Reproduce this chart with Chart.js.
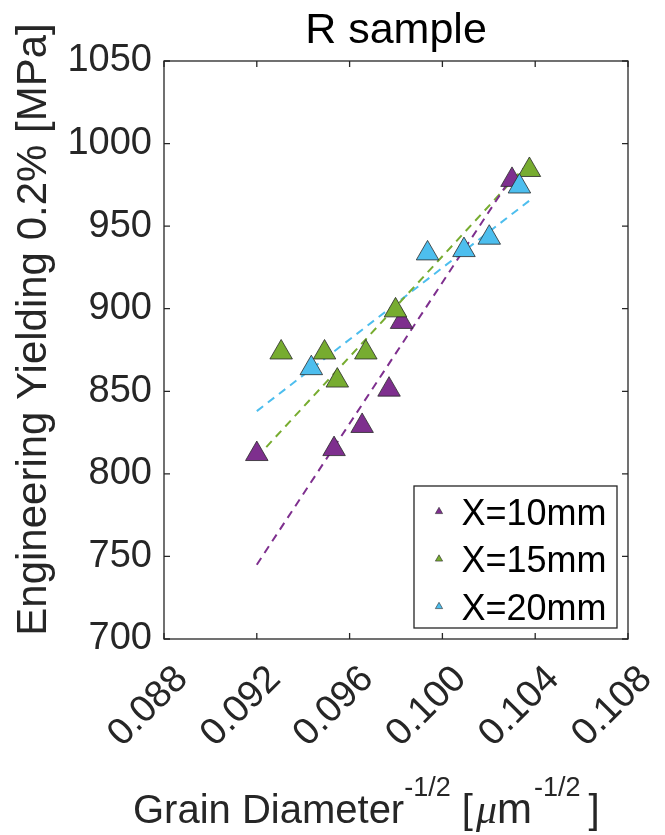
<!DOCTYPE html>
<html><head><meta charset="utf-8">
<script src="https://cdn.jsdelivr.net/npm/chart.js@4.4.0/dist/chart.umd.min.js"></script>
<style>html,body{margin:0;padding:0;background:#fff;}canvas{display:block;}</style>
</head><body>
<canvas id="c" width="665" height="835"></canvas>
<script>
// ---- data ----
const seriesNames = ['X=10mm', 'X=15mm', 'X=20mm'];
const seriesColors = ['#7E2F8E', '#77AC30', '#4DBEEE'];
const x10 = [0.0920, 0.09533, 0.09654, 0.0977, 0.09824, 0.1030];
const y10 = [812, 815, 829, 851, 892, 978];
const x15 = [0.09305, 0.09492, 0.09547, 0.0967, 0.09798, 0.10375];
const y15 = [873.5, 873.5, 856.5, 873.5, 899, 984];
const x20 = [0.09435, 0.09936, 0.10093, 0.10202, 0.10332];
const y20 = [864, 933.5, 935.5, 943, 974];
// dashed trend lines (end points)
const fitX10 = [0.0920, 0.1030], fitY10 = [745, 980];
const fitX15 = [0.0920, 0.1035], fitY15 = [810, 985];
const fitX20 = [0.0920, 0.1038], fitY20 = [838, 966];
const xTicks = [0.088, 0.092, 0.096, 0.100, 0.104, 0.108];
const yTicks = [700, 750, 800, 850, 900, 950, 1000, 1050];
const titleText = 'R sample';
const yTitle = 'Engineering Yielding 0.2% [MPa]';

const FONT = '"Liberation Sans", Arial, Helvetica, sans-serif';
const pts = (xs, ys) => xs.map((v, i) => ({x: v, y: ys[i]}));

const scatterDs = (name, xs, ys, color, order) => ({
  type: 'scatter', label: name, data: pts(xs, ys), order,
  pointStyle: 'triangle', pointRadius: 13, pointHoverRadius: 13,
  backgroundColor: color, borderColor: '#2a2a2a', borderWidth: 0.8, showLine: false
});
const lineDs = (name, xs, ys, color) => ({
  type: 'line', label: name, data: pts(xs, ys), order: 10,
  borderColor: color, borderWidth: 2, borderDash: [8, 6], pointRadius: 0, fill: false, tension: 0
});

const framePlugin = {
  id: 'frame',
  afterDraw(chart) {
    const {ctx, chartArea: a, scales: {x, y}} = chart;
    ctx.save();
    ctx.strokeStyle = '#262626';
    ctx.lineWidth = 1.3;
    ctx.strokeRect(a.left, a.top, a.right - a.left, a.bottom - a.top);
    const tl = 6;
    ctx.beginPath();
    x.ticks.forEach(t => {
      const px = x.getPixelForValue(t.value);
      ctx.moveTo(px, a.bottom); ctx.lineTo(px, a.bottom - tl);
      ctx.moveTo(px, a.top); ctx.lineTo(px, a.top + tl);
    });
    y.ticks.forEach(t => {
      const py = y.getPixelForValue(t.value);
      ctx.moveTo(a.left, py); ctx.lineTo(a.left + tl, py);
      ctx.moveTo(a.right, py); ctx.lineTo(a.right - tl, py);
    });
    ctx.stroke();

    // legend
    const bw = 203, bh = 142;
    const bx = a.right - 11 - bw, by = a.bottom - 11 - bh;
    ctx.fillStyle = '#fff';
    ctx.fillRect(bx, by, bw, bh);
    ctx.strokeStyle = '#262626';
    ctx.lineWidth = 1.3;
    ctx.strokeRect(bx, by, bw, bh);
    ctx.font = '36px ' + FONT;
    ctx.textAlign = 'left';
    ctx.textBaseline = 'alphabetic';
    seriesNames.forEach((n, i) => {
      const cy = by + 25.5 + i * 47.5;
      const mx = bx + 25, r = 4.2;
      ctx.beginPath();
      ctx.moveTo(mx, cy - r);
      ctx.lineTo(mx + r * 0.866, cy + r / 2);
      ctx.lineTo(mx - r * 0.866, cy + r / 2);
      ctx.closePath();
      ctx.fillStyle = seriesColors[i];
      ctx.fill();
      ctx.lineWidth = 0.6; ctx.strokeStyle = '#2a2a2a'; ctx.stroke();
      ctx.fillStyle = '#000';
      ctx.fillText(n, bx + 47.5, cy + 13);
    });

    // y-axis title
    ctx.save();
    ctx.translate(46, 329.5);
    ctx.rotate(-Math.PI / 2);
    ctx.font = '42px ' + FONT;
    ctx.fillStyle = '#262626';
    ctx.textAlign = 'center';
    ctx.textBaseline = 'alphabetic';
    ctx.fillText(yTitle, 0, 0);
    ctx.restore();

    // x-axis title with superscripts: [text, font, baseline shift, gap before]
    const parts = [
      ['Grain Diameter', '40px ' + FONT, 0, 0],
      ['-1/2', '27px ' + FONT, -27, 0],
      [' [', '40px ' + FONT, 0, 0],
      ['\u03BC', 'italic 42px "Liberation Serif", "DejaVu Serif", serif', 0, 3],
      ['m', '42px ' + FONT, 0, 0],
      ['-1/2', '27px ' + FONT, -27, 2],
      [']', '40px ' + FONT, 0, 8]
    ];
    let cx = 133;
    const base = 823;
    ctx.fillStyle = '#262626';
    ctx.textAlign = 'left';
    ctx.textBaseline = 'alphabetic';
    parts.forEach(([t, f, dy, gap]) => {
      ctx.font = f;
      cx += gap;
      ctx.fillText(t, cx, base + dy);
      cx += ctx.measureText(t).width;
    });
    ctx.restore();
  }
};

new Chart(document.getElementById('c'), {
  data: {
    datasets: [
      scatterDs(seriesNames[0], x10, y10, seriesColors[0], 3),
      scatterDs(seriesNames[1], x15, y15, seriesColors[1], 2),
      scatterDs(seriesNames[2], x20, y20, seriesColors[2], 1),
      lineDs(seriesNames[0] + ' fit', fitX10, fitY10, seriesColors[0]),
      lineDs(seriesNames[1] + ' fit', fitX15, fitY15, seriesColors[1]),
      lineDs(seriesNames[2] + ' fit', fitX20, fitY20, seriesColors[2])
    ]
  },
  options: {
    responsive: false,
    animation: false,
    devicePixelRatio: 1,
    layout: {padding: {left: 0, right: 37, top: 0, bottom: 0}},
    plugins: {
      legend: {display: false},
      tooltip: {enabled: false},
      title: {
        display: true, text: titleText, fullSize: false, color: '#000',
        font: {family: FONT, size: 43, weight: 'normal'},
        padding: {top: 5, bottom: 4.4}
      }
    },
    scales: {
      x: {
        type: 'linear', position: 'bottom',
        min: xTicks[0], max: xTicks[xTicks.length - 1],
        grid: {display: false, drawTicks: false},
        border: {display: false},
        afterBuildTicks: s => { s.ticks = xTicks.map(v => ({value: v})); },
        afterFit: s => { s.height = 196; s.paddingLeft = 0; s.paddingRight = 0; },
        ticks: {
          autoSkip: false, minRotation: 45, maxRotation: 45, padding: 18, labelOffset: 18,
          color: '#262626', font: {family: FONT, size: 38},
          callback: v => v.toFixed(3)
        }
      },
      y: {
        type: 'linear', position: 'left',
        min: yTicks[0], max: yTicks[yTicks.length - 1],
        grid: {display: false, drawTicks: false},
        border: {display: false},
        afterBuildTicks: s => { s.ticks = yTicks.map(v => ({value: v})); },
        afterFit: s => { s.width = 164; s.paddingTop = 0; s.paddingBottom = 0; },
        ticks: {
          padding: 12, color: '#262626', font: {family: FONT, size: 38},
          callback: v => String(v)
        }
      }
    }
  },
  plugins: [framePlugin]
});
</script>
</body></html>
